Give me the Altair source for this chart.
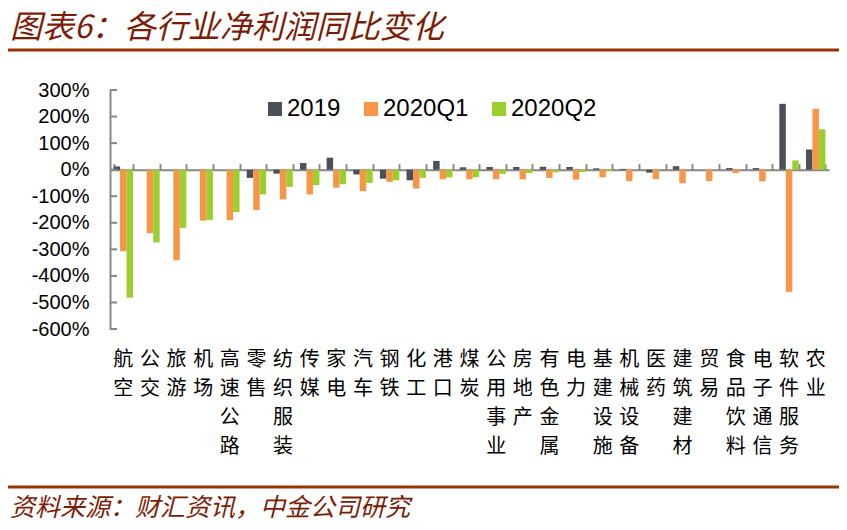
import altair as alt
import pandas as pd

cats = ["航空", "公交", "旅游", "机场", "高速公路", "零售", "纺织服装", "传媒", "家电", "汽车",
        "钢铁", "化工", "港口", "煤炭", "公用事业", "房地产", "有色金属", "电力", "基建设施",
        "机械设备", "医药", "建筑建材", "贸易", "食品饮料", "电子通信", "软件服务", "农业"]
series = ["2019", "2020Q1", "2020Q2"]
v2019 = [12, 0, 0, 0, 0, -31, -15, 25, 45, -18, -34, -40, 33, 9, 10, 10, 11, 10, 5,
         3, -11, 13, 0, 6, 6, 248, 76]
vq1 = [-307, -239, -341, -192, -190, -152, -112, -93, -68, -80, -46, -71, -36, -36, -36,
       -36, -31, -38, -29, -43, -35, -51, -43, -13, -44, -460, 229]
vq2 = [-482, -274, -219, -189, -160, -93, -65, -58, -55, -50, -40, -31, -29, -28, -16,
       -13, -10, -9, -5, 0, 0, 0, 0, 0, 2, 35, 152]
colors = ["#4a5058", "#f79646", "#9bcf2e"]
yticks = [-600, -500, -400, -300, -200, -100, 0, 100, 200, 300]

title_text = "图表6：各行业净利润同比变化"
source_text = "资料来源：财汇资讯，中金公司研究"

rows = []
for s, vals in zip(series, [v2019, vq1, vq2]):
    for c, v in zip(cats, vals):
        rows.append({"cat": c, "series": s, "value": v})
df = pd.DataFrame(rows)

W, H = 719, 239
GRAY = "#878787"
RED = "#7d1c05"
LINE = "#993300"
CJK = "Noto Sans CJK SC"

ydom = alt.Scale(domain=[-600, 300], nice=False, zero=False)
yaxis = alt.Axis(values=yticks, labelExpr="datum.value + '%'", ticks=False,
                 labelOverlap=False, title=None,
                 domainColor=GRAY, domainWidth=2, grid=False,
                 labelFont="Liberation Sans", labelFontSize=20,
                 labelColor="#000000", labelPadding=21)

bars = alt.Chart(df).mark_bar().encode(
    x=alt.X("cat:N", sort=cats, title=None,
            scale=alt.Scale(paddingInner=0.27, paddingOuter=0.135),
            axis=alt.Axis(orient="top", offset=-H / 3, labels=False, tickBand="extent",
                          tickSize=6, tickWidth=2, tickColor=GRAY, domainColor=GRAY,
                          domainWidth=2, grid=False)),
    xOffset=alt.XOffset("series:N", sort=series),
    y=alt.Y("value:Q", scale=ydom, title=None, axis=yaxis),
    color=alt.Color("series:N", sort=series,
                    scale=alt.Scale(domain=series, range=colors),
                    legend=alt.Legend(orient="none", legendX=153, legendY=7,
                                      direction="horizontal", title=None,
                                      symbolType="square", symbolSize=196,
                                      symbolStrokeWidth=0, labelFontSize=24,
                                      labelFont="Liberation Sans", labelColor="#000000",
                                      labelOffset=0, columnPadding=18)),
)

labels = alt.Chart(pd.DataFrame({"cat": cats, "z": [0] * len(cats)})).mark_point(opacity=0).encode(
    x=alt.X("cat:N", sort=cats, title=None,
            axis=alt.Axis(orient="bottom", domain=False, ticks=False,
                          labelExpr="split(datum.label, '')", labelAngle=0,
                          labelFont=CJK, labelFontSize=20, labelLineHeight=29,
                          labelColor="#000000", labelPadding=20, labelBaseline="top")),
    y=alt.Y("z:Q", scale=ydom, axis=yaxis),
)

ytick_marks = alt.Chart(pd.DataFrame({"v": yticks})).mark_rule(
    color=GRAY, strokeWidth=2).encode(
    y=alt.Y("v:Q", scale=ydom, axis=yaxis), x=alt.value(0), x2=alt.value(7))

title = alt.Chart(pd.DataFrame({"t": [title_text]})).mark_text(
    align="left", baseline="middle", font=CJK, fontSize=32, fontStyle="italic",
    color=RED).encode(text="t:N", x=alt.value(-100), y=alt.value(-62))

title_line = alt.Chart(pd.DataFrame({"t": [0]})).mark_rule(
    color=LINE, strokeWidth=3).encode(
    x=alt.value(-110), x2=alt.value(W + 20), y=alt.value(-40))

source = alt.Chart(pd.DataFrame({"t": [source_text]})).mark_text(
    align="left", baseline="middle", font=CJK, fontSize=25, fontStyle="italic",
    color=RED).encode(text="t:N", x=alt.value(-100), y=alt.value(418))

source_line = alt.Chart(pd.DataFrame({"t": [0]})).mark_rule(
    color=LINE, strokeWidth=3).encode(
    x=alt.value(-110), x2=alt.value(W + 20), y=alt.value(397))

chart = alt.layer(bars, labels, ytick_marks, title, title_line, source, source_line).resolve_axis(
    x="independent"
).properties(
    width=W, height=H,
    autosize=alt.AutoSizeParams(type="none"),
    padding={"left": 102, "top": 82, "right": 10, "bottom": 193},
).configure_view(stroke=None).configure_axisY(labelOverlap=False)

chart.save("out.html", embed_options={"renderer": "svg", "actions": False})
